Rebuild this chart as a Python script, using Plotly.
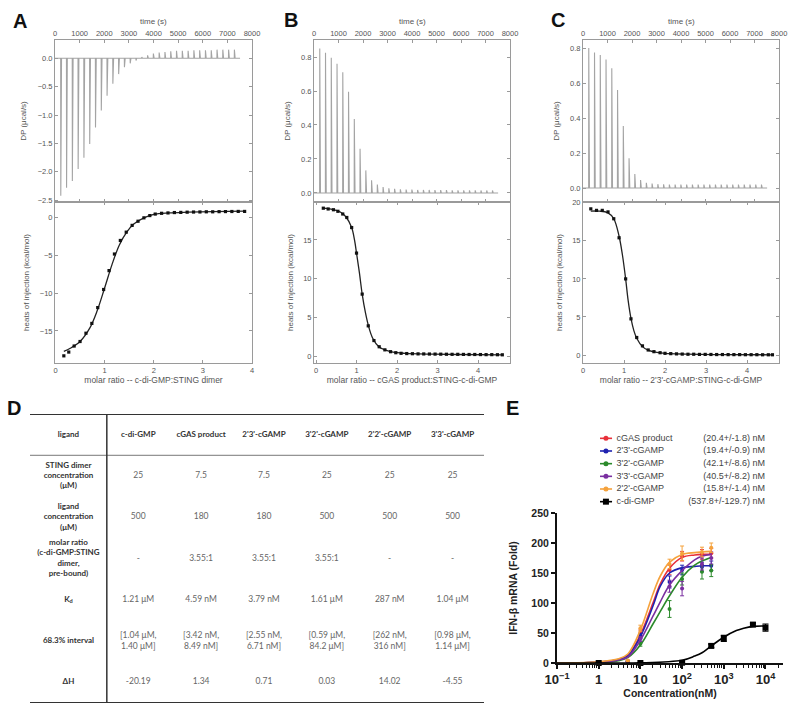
import plotly.graph_objects as go

W, H = 800, 713

# ---------------- data: ITC panels A, B, C ----------------
inj_time_s = [230, 465, 700, 935, 1170, 1405, 1640, 1875, 2110, 2345, 2580, 2815, 3050, 3285,
              3520, 3755, 3990, 4225, 4460, 4695, 4930, 5165, 5400, 5635, 5870, 6105, 6340,
              6575, 6810, 7045, 7280]
dp_A = [-2.42, -2.28, -2.16, -1.95, -1.75, -1.51, -1.22, -0.92, -0.66, -0.45, -0.28, -0.16, -0.09,
        -0.04, 0.02, 0.05, 0.08, 0.10, 0.11, 0.12, 0.13, 0.13, 0.13, 0.14, 0.14, 0.14, 0.14, 0.15,
        0.15, 0.15, 0.15]
dp_B = [0.85, 0.825, 0.795, 0.76, 0.71, 0.595, 0.435, 0.26, 0.133, 0.075, 0.05, 0.035, 0.028, 0.025,
        0.022, 0.02, 0.02, 0.018, 0.018, 0.018, 0.017, 0.017, 0.017, 0.016, 0.016, 0.016, 0.016,
        0.016, 0.015, 0.015, 0.015]
dp_C = [0.80, 0.775, 0.76, 0.735, 0.685, 0.56, 0.355, 0.17, 0.08, 0.045, 0.03, 0.025, 0.022, 0.021,
        0.02, 0.02, 0.02, 0.02, 0.02, 0.02, 0.02, 0.02, 0.02, 0.02, 0.02, 0.02, 0.02, 0.02, 0.02,
        0.02, 0.02]

ratio_A = [0.17, 0.27, 0.38, 0.50, 0.62, 0.74, 0.86, 0.98, 1.09, 1.20, 1.32, 1.44, 1.56, 1.68, 1.80,
           1.92, 2.03, 2.16, 2.29, 2.42, 2.55, 2.68, 2.81, 2.94, 3.07, 3.20, 3.33, 3.46, 3.59, 3.72, 3.85]
heat_A = [-18.3, -17.8, -17.0, -16.4, -15.3, -14.0, -11.9, -9.5, -7.0, -4.8, -3.0, -1.9, -1.0, -0.45,
          0.0, 0.3, 0.5, 0.6, 0.65, 0.7, 0.72, 0.75, 0.77, 0.78, 0.8, 0.8, 0.82, 0.83, 0.84, 0.85, 0.85]
fit_x_A = [0.17, 0.3, 0.5, 0.7, 0.85, 1.0, 1.15, 1.3, 1.45, 1.6, 1.8, 2.0, 2.3, 2.7, 3.2, 3.85]
fit_y_A = [-17.7, -17.3, -16.4, -14.6, -12.3, -9.3, -6.2, -3.6, -1.9, -0.8, 0.0, 0.45, 0.65, 0.75, 0.82, 0.88]

ratio_B = [0.18, 0.30, 0.43, 0.54, 0.66, 0.76, 0.88, 1.00, 1.14, 1.29, 1.43, 1.56, 1.70, 1.84, 1.97,
           2.10, 2.24, 2.38, 2.52, 2.66, 2.80, 2.94, 3.08, 3.22, 3.36, 3.50, 3.64, 3.78, 3.92, 4.06,
           4.20, 4.34, 4.48, 4.60]
heat_B = [19.1, 19.0, 18.9, 18.7, 18.35, 17.9, 16.6, 13.3, 8.0, 3.9, 2.0, 1.2, 0.8, 0.56, 0.43, 0.35,
          0.32, 0.3, 0.28, 0.27, 0.26, 0.25, 0.24, 0.23, 0.22, 0.22, 0.21, 0.2, 0.2, 0.19, 0.18, 0.18,
          0.17, 0.16]
fit_x_B = [0.18, 0.4, 0.6, 0.75, 0.88, 0.95, 1.0, 1.07, 1.14, 1.22, 1.3, 1.4, 1.55, 1.7, 1.9, 2.2, 2.8, 3.5, 4.6]
fit_y_B = [19.1, 18.95, 18.6, 17.9, 16.6, 15.0, 13.3, 10.8, 8.0, 5.6, 3.8, 2.3, 1.2, 0.8, 0.5, 0.35, 0.25, 0.2, 0.15]

ratio_C = [0.19, 0.33, 0.47, 0.61, 0.75, 0.88, 1.04, 1.17, 1.31, 1.45, 1.59, 1.73, 1.88, 2.00, 2.14,
           2.28, 2.42, 2.56, 2.70, 2.84, 2.98, 3.12, 3.26, 3.40, 3.54, 3.68, 3.82, 3.96, 4.10, 4.24,
           4.38, 4.52, 4.62]
heat_C = [19.2, 19.0, 19.0, 18.8, 17.9, 15.4, 10.0, 4.75, 2.3, 1.2, 0.66, 0.44, 0.3, 0.22, 0.18, 0.15,
          0.12, 0.1, 0.1, 0.08, 0.08, 0.07, 0.06, 0.06, 0.05, 0.05, 0.05, 0.04, 0.04, 0.04, 0.03, 0.03, 0.03]
fit_x_C = [0.19, 0.4, 0.6, 0.75, 0.88, 0.96, 1.04, 1.1, 1.17, 1.24, 1.31, 1.45, 1.6, 1.8, 2.0, 2.5, 3.2, 4.62]
fit_y_C = [18.9, 18.9, 18.7, 17.9, 15.6, 13.2, 10.0, 7.2, 4.8, 3.2, 2.2, 1.1, 0.6, 0.35, 0.22, 0.12, 0.06, 0.03]

xtitle_A = "molar ratio -- c-di-GMP:STING dimer"
xtitle_B = "molar ratio -- cGAS product:STING-c-di-GMP"
xtitle_C = "molar ratio -- 2'3'-cGAMP:STING-c-di-GMP"

# ---------------- data: table D ----------------
table_header = ["ligand", "c-di-GMP", "cGAS product", "2'3'-cGAMP", "3'2'-cGAMP", "2'2'-cGAMP", "3'3'-cGAMP"]
row_labels = ["STING dimer<br>concentration<br>(μM)", "ligand<br>concentration<br>(μM)",
              "molar ratio<br>(c-di-GMP:STING<br>dimer,<br>pre-bound)", "K<sub>d</sub>",
              "68.3% interval", "ΔH"]
row_sting = ["25", "7.5", "7.5", "25", "25", "25"]
row_ligand = ["500", "180", "180", "500", "500", "500"]
row_molar = ["-", "3.55:1", "3.55:1", "3.55:1", "-", "-"]
row_kd = ["1.21 μM", "4.59 nM", "3.79 nM", "1.61 μM", "287 nM", "1.04 μM"]
row_interval = ["[1.04 μM,<br>1.40 μM]", "[3.42 nM,<br>8.49 nM]", "[2.55 nM,<br>6.71 nM]",
                "[0.59 μM,<br>84.2 μM]", "[262 nM,<br>316 nM]", "[0.98 μM,<br>1.14 μM]"]
row_dh = ["-20.19", "1.34", "0.71", "0.03", "14.02", "-4.55"]
table_rows = [row_sting, row_ligand, row_molar, row_kd, row_interval, row_dh]

# ---------------- data: dose response E ----------------
series_names = ["cGAS product", "2'3'-cGAMP", "3'2'-cGAMP", "3'3'-cGAMP", "2'2'-cGAMP", "c-di-GMP"]
ec50_labels = ["(20.4+/-1.8) nM", "(19.4+/-0.9) nM", "(42.1+/-8.6) nM", "(40.5+/-8.2) nM",
               "(15.8+/-1.4) nM", "(537.8+/-129.7) nM"]
colors = ["#e8303a", "#1f22b0", "#2b8a2b", "#7a2fa0", "#f5a23c", "#000000"]

conc_nM = [1, 5, 10, 50, 100, 300, 500]
pts_red = [1, 3, 50, 155, 178, 181, 183]
err_red = [0.5, 1, 5, 8, 8, 8, 8]
pts_blue = [1, 3, 45, 135, 155, 160, 162]
err_blue = [0.5, 1, 4, 10, 8, 8, 8]
pts_green = [0.5, 2, 32, 90, 140, 152, 154]
err_green = [0.5, 1, 4, 14, 10, 12, 10]
pts_purple = [0.5, 2, 40, 128, 124, 165, 175]
err_purple = [0.5, 1, 4, 10, 12, 10, 10]
pts_orange = [1, 4, 58, 165, 183, 185, 192]
err_orange = [0.5, 1, 5, 8, 12, 8, 8]
conc_black = [1, 10, 100, 500, 1000, 5000, 10000]
pts_black = [0, 0, 0.5, 28.5, 41, 64, 59]
err_black = [0.5, 0.5, 1, 3, 5, 3, 6]

fit_conc = [0.1, 1, 3, 5, 10, 20, 30, 50, 100, 200, 300, 500]
fit_red = [0.1, 1.5, 6, 13, 47, 100, 132, 158, 176, 180, 181, 181]
fit_blue = [0.1, 1.5, 6, 12, 44, 95, 128, 150, 159, 161, 162, 162]
fit_green = [0.05, 1, 4, 9, 30, 65, 86, 112, 143, 163, 170, 176]
fit_purple = [0.05, 1, 5, 10, 38, 78, 102, 130, 154, 172, 178, 181]
fit_orange = [0.1, 2, 7, 15, 55, 115, 145, 168, 181, 184, 185, 186]
fit_conc_black = [0.1, 1, 10, 100, 200, 300, 500, 1000, 2000, 3000, 5000, 10000]
fit_black = [0.0, 0.005, 0.16, 4.6, 11.5, 17, 28.5, 43, 54, 58, 61, 61.5]

# ---------------- helpers ----------------
def dom_x(a, b):
    return [a / W, b / W]

def dom_y(top, bottom):
    return [1 - bottom / H, 1 - top / H]

def ax_id(letter, n):
    return letter if n == 1 else f"{letter}{n}"

ITC_FONT = "Liberation Sans"
GREY = "#9a9a9a"

def itc_axis(**kw):
    base = dict(showline=True, linecolor=GREY, linewidth=1, mirror="ticks", ticks="inside",
                ticklen=3, tickcolor=GREY, tickfont=dict(size=7.5, color="#555", family=ITC_FONT),
                showgrid=False, zeroline=False, automargin=False,
                title_font=dict(size=8, color="#555", family=ITC_FONT))
    base.update(kw)
    return base

def spike_trace(times, peaks, xa, ya):
    xs, ys = [0], [0]
    step = times[1] - times[0]
    for t, p in zip(times, peaks):
        xs += [t, t + 5, t + 35]
        ys += [0, p, 0]
    xs.append(times[-1] + step)
    ys.append(0)
    return go.Scatter(x=xs, y=ys, mode="lines", line=dict(color="#a4a4a4", width=1.1),
                      xaxis=xa, yaxis=ya, hoverinfo="skip")

fig = go.Figure()
annotations = []

panels = [
    ((55, 252), dp_A, [-2.53, 0.32], 0.5, ratio_A, heat_A, fit_x_A, fit_y_A, [-19.25, 2.1], 5, [-0.01, 4.0], xtitle_A),
    ((314, 510), dp_B, [-0.053, 0.9], 0.2, ratio_B, heat_B, fit_x_B, fit_y_B, [-0.9, 19.9], 5, [-0.05, 4.79], xtitle_B),
    ((583, 779), dp_C, [-0.08, 0.846], 0.2, ratio_C, heat_C, fit_x_C, fit_y_C, [-1.05, 20.1], 5, [0.0, 4.78], xtitle_C),
]

layout_axes = {}
for i, (xr, dp, dpr, dpd, rx, hy, fx, fy, hr, hd, xrng, xt) in enumerate(panels):
    n_top = 2 * i + 1
    n_bot = 2 * i + 2
    xa_t, ya_t = ax_id("x", n_top), ax_id("y", n_top)
    xa_b, ya_b = ax_id("x", n_bot), ax_id("y", n_bot)
    fig.add_trace(spike_trace(inj_time_s, dp, xa_t, ya_t))
    fig.add_trace(go.Scatter(x=fx, y=fy, mode="lines", line=dict(color="#222", width=1.3, shape="spline"),
                             xaxis=xa_b, yaxis=ya_b, hoverinfo="skip"))
    fig.add_trace(go.Scatter(x=rx, y=hy, mode="markers",
                             marker=dict(symbol="square", size=3.2, color="#111"),
                             xaxis=xa_b, yaxis=ya_b, hoverinfo="skip"))
    layout_axes[f"xaxis{n_top}"] = itc_axis(domain=dom_x(*xr), anchor=ya_t, side="top", range=[0, 8000],
                                            dtick=1000)
    annotations.append(dict(text="time (s)", xref=f"{xa_t} domain", yref=f"{ya_t} domain", x=0.5, y=1,
                            yshift=19, showarrow=False, xanchor="center", yanchor="middle",
                            font=dict(size=8, color="#555", family=ITC_FONT)))
    layout_axes[f"yaxis{n_top}"] = itc_axis(domain=dom_y(40, 202), anchor=xa_t, range=dpr, dtick=dpd,
                                            tickformat=".1f", title=dict(text="DP (μcal/s)", standoff=9))
    layout_axes[f"xaxis{n_bot}"] = itc_axis(domain=dom_x(*xr), anchor=ya_b, range=xrng, dtick=1,
                                            title=dict(text=xt, standoff=3, font=dict(size=8.5, color="#555")))
    layout_axes[f"yaxis{n_bot}"] = itc_axis(domain=dom_y(202, 363), anchor=xa_b, range=hr, dtick=hd,
                                            title=dict(text="heats of injection (kcal/mol)", standoff=8))

# ---------------- table D ----------------
TFONT = "Lato"
label_col_x = -0.11
col_x = list(range(1, len(table_header)))
fig.add_trace(go.Scatter(x=[label_col_x] + col_x, y=[0] * len(table_header),
                         text=[f"<b>{h}</b>" for h in table_header], mode="text",
                         textfont=dict(size=8, color="#333", family=TFONT),
                         xaxis="x7", yaxis="y7", hoverinfo="skip"))
fig.add_trace(go.Scatter(x=[label_col_x] * len(row_labels), y=list(range(1, len(row_labels) + 1)),
                         text=[f"<b>{r}</b>" for r in row_labels], mode="text",
                         textfont=dict(size=8, color="#333", family=TFONT),
                         xaxis="x7", yaxis="y7", hoverinfo="skip"))
for ri, row in enumerate(table_rows):
    fig.add_trace(go.Scatter(x=col_x, y=[ri + 1] * len(row), text=row, mode="text",
                             textfont=dict(size=8.5, color="#666", family=TFONT),
                             xaxis="x7", yaxis="y7", hoverinfo="skip"))
tx0, tx1 = -0.722, 6.5
layout_axes["xaxis7"] = dict(domain=dom_x(30, 484), range=[tx0, tx1], visible=False, anchor="y7")
layout_axes["yaxis7"] = dict(domain=dom_y(414, 703), range=[6.5, -0.5], visible=False, anchor="x7")
shapes = [
    dict(type="line", xref="x7", yref="y7", x0=tx0, x1=tx1, y0=-0.5, y1=-0.5, line=dict(color="#333", width=2)),
    dict(type="line", xref="x7", yref="y7", x0=tx0, x1=tx1, y0=0.5, y1=0.5, line=dict(color="#777", width=1)),
    dict(type="line", xref="x7", yref="y7", x0=tx0, x1=tx1, y0=6.5, y1=6.5, line=dict(color="#333", width=2)),
    dict(type="line", xref="x7", yref="y7", x0=0.5, x1=0.5, y0=-0.5, y1=6.5, line=dict(color="#333", width=1.5)),
]

# ---------------- dose response E ----------------
pts = [pts_red, pts_blue, pts_green, pts_purple, pts_orange]
errs = [err_red, err_blue, err_green, err_purple, err_orange]
fits = [fit_red, fit_blue, fit_green, fit_purple, fit_orange]
for k in range(5):
    fig.add_trace(go.Scatter(x=fit_conc, y=fits[k], mode="lines",
                             line=dict(color=colors[k], width=1.6, shape="spline"),
                             xaxis="x8", yaxis="y8", cliponaxis=False, hoverinfo="skip"))
    fig.add_trace(go.Scatter(x=conc_nM, y=pts[k], mode="markers",
                             marker=dict(color=colors[k], size=4),
                             error_y=dict(type="data", array=errs[k], color=colors[k], thickness=1, width=2),
                             xaxis="x8", yaxis="y8", cliponaxis=False, hoverinfo="skip"))
fig.add_trace(go.Scatter(x=fit_conc_black, y=fit_black, mode="lines",
                         line=dict(color="#000", width=1.6, shape="spline"),
                         xaxis="x8", yaxis="y8", cliponaxis=False, hoverinfo="skip"))
fig.add_trace(go.Scatter(x=conc_black, y=pts_black, mode="markers",
                         marker=dict(color="#000", size=6, symbol="square"),
                         error_y=dict(type="data", array=err_black, color="#000", thickness=1.2, width=3),
                         xaxis="x8", yaxis="y8", cliponaxis=False, hoverinfo="skip"))

EFONT = dict(family="Liberation Sans", size=10.5, color="#222", weight="bold")
layout_axes["xaxis8"] = dict(domain=dom_x(557, 783), anchor="y8", type="log", range=[-1, 4.42],
                             dtick=1, exponentformat="power", showexponent="all",
                             showline=True, linecolor="#111", linewidth=2, ticks="outside", ticklen=4,
                             tickwidth=2, tickcolor="#111", tickfont=EFONT, showgrid=False, zeroline=False,
                             minor=dict(ticks="outside", ticklen=3, tickwidth=1.2, tickcolor="#111", dtick="D1"),
                             title=dict(text="Concentration(nM)", font=EFONT, standoff=0), automargin=False)
layout_axes["yaxis8"] = dict(domain=dom_y(513, 663), anchor="x8", range=[0, 250], dtick=50,
                             showline=True, linecolor="#111", linewidth=2, ticks="outside", ticklen=4,
                             tickwidth=2, tickcolor="#111", tickfont=EFONT, showgrid=False, zeroline=False,
                             title=dict(text="IFN-β mRNA (Fold)", font=EFONT, standoff=12), automargin=False)

# legend for E (own small axis)
for k, name in enumerate(series_names):
    fig.add_trace(go.Scatter(x=[0, 0.073], y=[k, k], mode="lines",
                             line=dict(color=colors[k], width=1.6),
                             xaxis="x9", yaxis="y9", hoverinfo="skip"))
    fig.add_trace(go.Scatter(x=[0.036], y=[k], mode="markers",
                             marker=dict(color=colors[k], size=5 if k < 5 else 6,
                                         symbol="square" if k == 5 else "circle"),
                             xaxis="x9", yaxis="y9", hoverinfo="skip"))
fig.add_trace(go.Scatter(x=[0.1] * 6, y=list(range(6)), text=series_names, mode="text",
                         textposition="middle right",
                         textfont=dict(size=9, color="#444", family="Liberation Sans"),
                         xaxis="x9", yaxis="y9", hoverinfo="skip"))
fig.add_trace(go.Scatter(x=[1.0] * 6, y=list(range(6)), text=ec50_labels, mode="text",
                         textposition="middle left",
                         textfont=dict(size=9, color="#444", family="Liberation Sans"),
                         xaxis="x9", yaxis="y9", hoverinfo="skip"))
layout_axes["xaxis9"] = dict(domain=dom_x(600, 765), range=[0, 1], visible=False, anchor="y9")
layout_axes["yaxis9"] = dict(domain=dom_y(432, 508), range=[5.5, -0.5], visible=False, anchor="x9")

# panel letters
letters = [("A", 20, 21), ("B", 291, 20), ("C", 558, 20), ("D", 14, 408), ("E", 512, 408)]
annotations += [dict(text=f"<b>{t}</b>", x=x / W, y=1 - y / H, xref="paper", yref="paper",
                     showarrow=False, font=dict(size=20, color="#111", family="Liberation Sans"),
                     xanchor="center", yanchor="middle") for t, x, y in letters]

fig.update_layout(width=W, height=H, margin=dict(l=0, r=0, t=0, b=0), showlegend=False,
                  paper_bgcolor="white", plot_bgcolor="white", shapes=shapes, annotations=annotations,
                  font=dict(family="Liberation Sans"), **layout_axes)

fig.write_html("out.html", config={"displayModeBar": False},
               post_script="document.body.style.margin='0px';")
